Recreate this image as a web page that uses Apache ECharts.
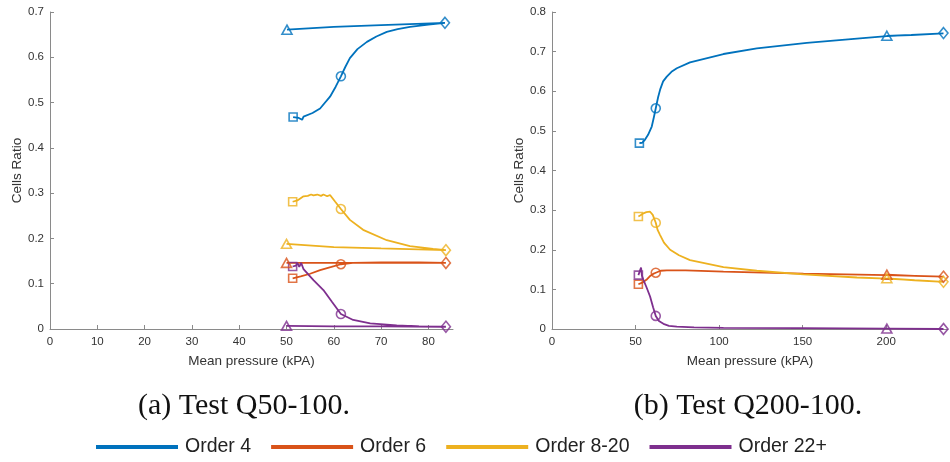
<!DOCTYPE html>
<html>
<head>
<meta charset="utf-8">
<script src="https://cdn.jsdelivr.net/npm/echarts@6/dist/echarts.min.js"></script>
<style>html,body{margin:0;padding:0;background:#fff}#chart{width:950px;height:462px}</style>
</head>
<body>
<div id="chart"></div>
<script>
// ---------- DATA ----------
var seriesNames = ['Order 4', 'Order 6', 'Order 8-20', 'Order 22+'];
var colors = ['#0072BD', '#D95319', '#EDB120', '#7E2F8E'];

var xTicksLeft = [0, 10, 20, 30, 40, 50, 60, 70, 80];
var xTicksRight = [0, 50, 100, 150, 200];

// Panel (a) Test Q50-100: [mean pressure kPa, cells ratio]
var leftOrder4 = [[51.4,0.468],[52.6,0.466],[53.3,0.462],[53.6,0.469],[55.5,0.477],[57.1,0.487],[59.2,0.513],[60.4,0.535],[61.5,0.558],[62.4,0.578],[63.4,0.598],[65,0.618],[67,0.634],[69,0.646],[71.2,0.656],[73.5,0.662],[76.1,0.667],[80,0.672],[83.5,0.676],[70,0.671],[60,0.667],[50.1,0.661]];
var leftOrder6 = [[51.3,0.112],[53,0.116],[55,0.122],[57.1,0.130],[59.5,0.137],[61.5,0.143],[64,0.146],[70,0.147],[78,0.147],[83.7,0.146],[70,0.146],[60,0.146],[50,0.146]];
var leftOrder820 = [[51.3,0.281],[52.3,0.284],[53.6,0.293],[54.5,0.294],[55.2,0.297],[55.7,0.295],[56.5,0.297],[57.3,0.294],[57.8,0.297],[58.6,0.293],[59.2,0.296],[59.6,0.292],[60.3,0.281],[61.5,0.265],[63.4,0.241],[66.2,0.219],[71.2,0.196],[76.1,0.183],[81,0.177],[83.7,0.174],[70,0.178],[60,0.181],[50,0.188]];
var leftOrder22 = [[51.3,0.138],[52,0.140],[52.3,0.146],[52.7,0.137],[53.1,0.146],[53.6,0.132],[55.7,0.108],[57.8,0.086],[59.6,0.060],[61.5,0.033],[64.1,0.020],[67.7,0.0125],[73.3,0.008],[78,0.006],[83.7,0.005],[70,0.006],[60,0.006],[50,0.007]];

// Panel (b) Test Q200-100
var rightOrder4 = [[52.3,0.469],[54,0.470],[55.7,0.478],[57.5,0.490],[59.7,0.511],[61,0.535],[62.1,0.557],[63.5,0.585],[64.7,0.604],[66.5,0.625],[68.7,0.637],[71.5,0.649],[74.7,0.658],[82.6,0.673],[102.6,0.694],[122.6,0.708],[152.5,0.722],[182.5,0.733],[200.4,0.739],[234.3,0.746],[215,0.742],[200.4,0.740]];
var rightOrder6 = [[51.7,0.113],[54,0.117],[56.5,0.124],[58.5,0.133],[60.5,0.139],[62.1,0.142],[65,0.147],[68.7,0.148],[80,0.148],[102.6,0.145],[150.5,0.140],[200.4,0.136],[234.3,0.132],[217,0.134],[200.4,0.137]];
var rightOrder820 = [[51.7,0.284],[53,0.287],[54.7,0.292],[56.5,0.295],[58.7,0.296],[60.3,0.288],[62.1,0.268],[63.2,0.250],[64.7,0.237],[67,0.218],[70.7,0.200],[76,0.186],[82.6,0.174],[102.6,0.156],[122.6,0.147],[150.5,0.138],[182.5,0.130],[200.4,0.127],[234.3,0.119],[217,0.123],[200.4,0.128]];
var rightOrder22 = [[51.7,0.136],[52.8,0.138],[53.3,0.155],[53.8,0.135],[54.7,0.124],[56.5,0.106],[58.7,0.082],[60.5,0.055],[62.1,0.033],[64,0.020],[66.7,0.013],[70,0.008],[74.7,0.006],[85,0.004],[102.6,0.003],[150,0.002],[200.4,0.001],[234.3,0.000],[200.4,0.001]];

// Markers (order 4, 6, 8-20, 22+)
var leftSquare   = [[51.4,0.468],[51.3,0.112],[51.3,0.281],[51.3,0.138]];
var leftCircle   = [[61.5,0.558],[61.5,0.143],[61.5,0.265],[61.5,0.033]];
var leftDiamond  = [[83.5,0.676],[83.7,0.146],[83.7,0.174],[83.7,0.005]];
var leftTriangle = [[50.1,0.661],[50.0,0.146],[50.0,0.188],[50.0,0.007]];
var rightSquare   = [[52.3,0.469],[51.7,0.113],[51.7,0.284],[51.7,0.136]];
var rightCircle   = [[62.1,0.557],[62.1,0.142],[62.1,0.268],[62.1,0.033]];
var rightDiamond  = [[234.3,0.747],[234.3,0.132],[234.3,0.119],[234.3,0.000]];
var rightTriangle = [[200.4,0.740],[200.4,0.137],[200.4,0.128],[200.4,0.001]];

var captions = ['(a) Test Q50-100.', '(b) Test Q200-100.'];

// ---------- CHART ----------
var chart = echarts.init(document.getElementById('chart'), null, {renderer: 'canvas'});
var axisGrey = '#8a8a8a';
var labelColor = '#333';
var fontSans = 'Liberation Sans, Arial, sans-serif';

function xAxis(idx, max, ticks) {
  return {
    type: 'value', gridIndex: idx, min: 0, max: max,
    name: 'Mean pressure (kPA)', nameLocation: 'middle', nameGap: 25,
    nameTextStyle: {fontSize: 13.5, color: labelColor, fontFamily: fontSans},
    axisLine: {show: true, onZero: false, lineStyle: {color: axisGrey, width: 1}},
    axisTick: {show: true, inside: true, length: 4, customValues: ticks, lineStyle: {color: axisGrey}},
    axisLabel: {customValues: ticks, fontSize: 11.5, color: labelColor, margin: 7, fontFamily: fontSans},
    splitLine: {show: false}
  };
}
function yAxis(idx, max) {
  return {
    type: 'value', gridIndex: idx, min: 0, max: max, interval: 0.1,
    name: 'Cells Ratio', nameLocation: 'middle', nameGap: 26, nameRotate: 90,
    nameTextStyle: {fontSize: 13.5, color: labelColor, fontFamily: fontSans},
    axisLine: {show: true, lineStyle: {color: axisGrey, width: 1}},
    axisTick: {show: true, inside: true, length: 4, lineStyle: {color: axisGrey}},
    axisLabel: {fontSize: 11.5, color: labelColor, margin: 6, fontFamily: fontSans,
      formatter: function (v) { return String(Math.round(v * 10) / 10); }},
    splitLine: {show: false}
  };
}

var series = [];
var paths = [[leftOrder4, leftOrder6, leftOrder820, leftOrder22], [rightOrder4, rightOrder6, rightOrder820, rightOrder22]];
paths.forEach(function (panel, p) {
  panel.forEach(function (d, i) {
    series.push({
      type: 'line', name: seriesNames[i], xAxisIndex: p, yAxisIndex: p,
      data: d, showSymbol: false, symbol: 'none', smooth: false,
      lineStyle: {color: colors[i], width: 1.8}, itemStyle: {color: colors[i]},
      emphasis: {disabled: true}, z: 2 + i
    });
  });
});

var markerSets = [
  [[leftSquare, 'rect', 8], [leftCircle, 'circle', 9], [leftDiamond, 'diamond', [9, 11]], [leftTriangle, 'triangle', [10, 9]]],
  [[rightSquare, 'rect', 8], [rightCircle, 'circle', 9], [rightDiamond, 'diamond', [9, 11]], [rightTriangle, 'triangle', [10, 9]]]
];
markerSets.forEach(function (sets, p) {
  sets.forEach(function (m) {
    series.push({
      type: 'scatter', name: 'marker', xAxisIndex: p, yAxisIndex: p,
      symbol: m[1], symbolSize: m[2],
      data: m[0].map(function (pt, i) {
        return {value: pt, itemStyle: {color: 'rgba(0,0,0,0)', borderColor: colors[i], borderWidth: 1.6}};
      }),
      emphasis: {disabled: true}, z: 10
    });
  });
});

chart.setOption({
  animation: false,
  backgroundColor: '#fff',
  grid: [
    {left: 50, right: 497, top: 12, bottom: 133, containLabel: false},
    {left: 552, right: 2, top: 12, bottom: 133, containLabel: false}
  ],
  xAxis: [xAxis(0, 85.2, xTicksLeft), xAxis(1, 237, xTicksRight)],
  yAxis: [yAxis(0, 0.7), yAxis(1, 0.8)],
  legend: {
    data: seriesNames, left: 96, top: 437, padding: 0, itemGap: 20,
    icon: 'rect', itemWidth: 82, itemHeight: 4,
    textStyle: {fontSize: 19.5, color: '#222', fontFamily: fontSans, padding: [0, 0, 0, 2]},
    selectedMode: false
  },
  graphic: [
    {type: 'text', x: 244, y: 406, style: {text: captions[0], font: '30px "Liberation Serif", serif', fill: '#111', align: 'center', verticalAlign: 'middle'}},
    {type: 'text', x: 748, y: 406, style: {text: captions[1], font: '30px "Liberation Serif", serif', fill: '#111', align: 'center', verticalAlign: 'middle'}}
  ],
  series: series
});
</script>
</body>
</html>
